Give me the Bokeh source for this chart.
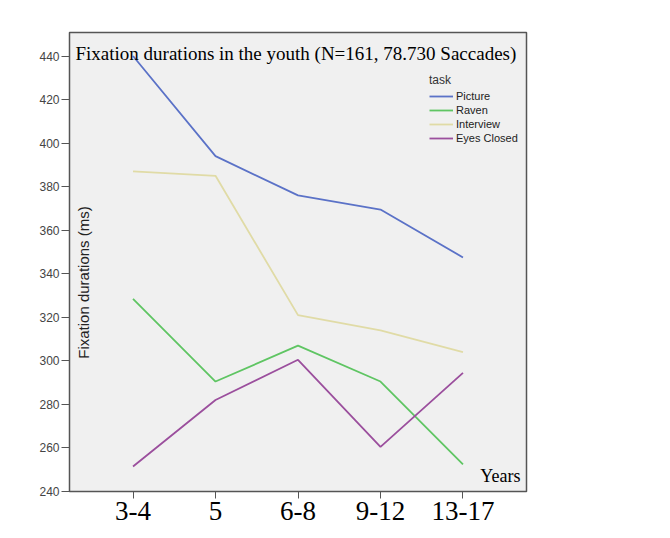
from bokeh.plotting import figure
from bokeh.models import (Range1d, FixedTicker, Legend, LegendItem, Label)
from bokeh.embed import file_html
from bokeh.resources import INLINE

# ---- data ----
ages = ["3-4", "5", "6-8", "9-12", "13-17"]
picture = [440, 394, 376, 369.5, 347.5]
raven = [328.5, 290.5, 307, 290.5, 252.5]
interview = [387, 385, 321, 314, 304]
eyes_closed = [251.5, 282, 300.5, 260.5, 294.5]
series_names = ["Picture", "Raven", "Interview", "Eyes Closed"]
series_values = [picture, raven, interview, eyes_closed]
series_colors = ["#5b72c7", "#5fc563", "#e0dba6", "#9b4f9d"]
y_ticks = [240, 260, 280, 300, 320, 340, 360, 380, 400, 420, 440]
title_text = "Fixation durations in the youth (N=161, 78.730 Saccades)"
y_label_text = "Fixation durations (ms)"
x_unit_text = "Years"
legend_title_text = "task"

SERIF = "Liberation Serif"
SANS = "Liberation Sans"

xs = list(range(len(ages)))

p = figure(width=654, height=522, output_backend="svg", toolbar_location=None,
           x_range=Range1d(-0.77, 4.77), y_range=Range1d(240, 450.8),
           min_border_left=69, min_border_right=128, min_border_top=32,
           min_border_bottom=10)

p.background_fill_color = "#f0f0f0"
p.border_fill_color = "white"
p.outline_line_color = "#555555"
p.outline_line_width = 1.5
p.xgrid.visible = False
p.ygrid.visible = False

# axes
p.yaxis.ticker = FixedTicker(ticks=y_ticks)
p.yaxis.major_label_text_font = SANS
p.yaxis.major_label_text_font_size = "12px"
p.yaxis.major_label_text_color = "#444444"
p.yaxis.major_tick_out = 8
p.yaxis.major_tick_in = 0
p.yaxis.minor_tick_line_color = None
p.yaxis.major_label_standoff = 2
p.yaxis.axis_line_color = "#555555"
p.yaxis.major_tick_line_color = "#555555"

p.xaxis.ticker = FixedTicker(ticks=xs)
p.xaxis.major_label_overrides = {i: a for i, a in zip(xs, ages)}
p.xaxis.major_label_text_font = SERIF
p.xaxis.major_label_text_font_size = "27px"
p.xaxis.major_label_text_color = "black"
p.xaxis.major_tick_out = 7
p.xaxis.major_tick_in = 0
p.xaxis.minor_tick_line_color = None
p.xaxis.major_label_standoff = 3
p.xaxis.axis_line_color = "#555555"
p.xaxis.major_tick_line_color = "#555555"

items = []
for name, vals, col in zip(series_names, series_values, series_colors):
    r = p.line(xs, vals, line_color=col, line_width=1.8)
    items.append(LegendItem(label=name, renderers=[r]))

legend = Legend(items=items, location=(356, 342), padding=4, margin=0, spacing=0,
                glyph_width=24, glyph_height=14, label_height=14, label_standoff=3,
                label_text_font=SANS, label_text_font_size="11px",
                label_text_color="#222222",
                title=legend_title_text, title_text_font=SANS,
                title_text_font_size="12px", title_text_font_style="normal",
                title_text_color="#333333", title_standoff=2,
                background_fill_alpha=0, border_line_alpha=0)
p.add_layout(legend, "center")

p.add_layout(Label(x=6, y=438, x_units="screen", y_units="screen",
                   text=title_text, text_font=SERIF, text_font_size="19px",
                   text_color="black", text_baseline="alphabetic", text_align="left"))

p.add_layout(Label(x=14, y=209, x_units="screen", y_units="screen",
                   text=y_label_text, text_font=SANS, text_font_size="15px",
                   text_color="#222222", angle=1.5708,
                   text_baseline="middle", text_align="center"))

p.add_layout(Label(x=451, y=6, x_units="screen", y_units="screen",
                   text=x_unit_text, text_font=SERIF, text_font_size="18px",
                   text_color="black", text_baseline="bottom", text_align="right"))

open("out.html", "w").write(file_html(p, INLINE))
